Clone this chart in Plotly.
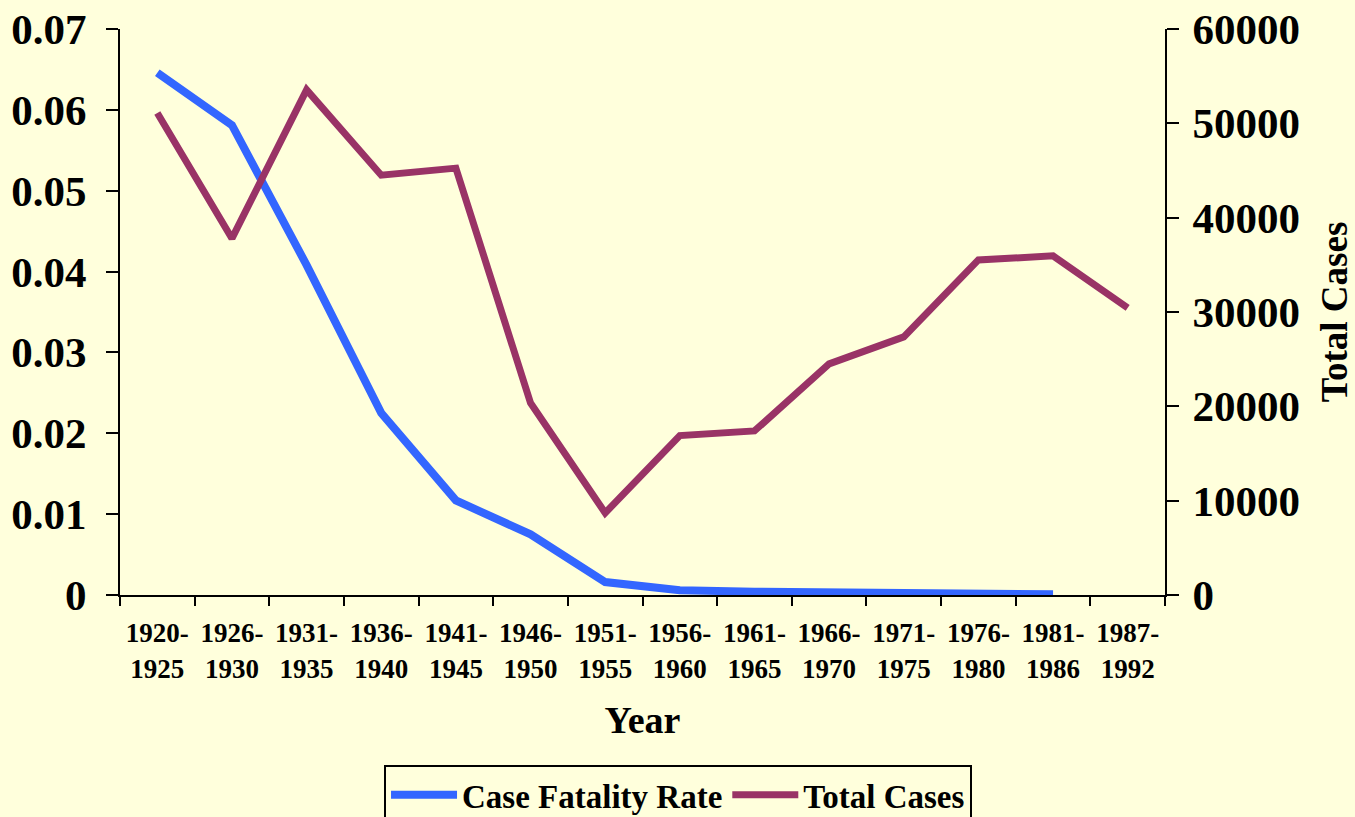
import plotly.graph_objects as go

periods = ["1920-<br>1925", "1926-<br>1930", "1931-<br>1935", "1936-<br>1940", "1941-<br>1945",
           "1946-<br>1950", "1951-<br>1955", "1956-<br>1960", "1961-<br>1965", "1966-<br>1970",
           "1971-<br>1975", "1976-<br>1980", "1981-<br>1986", "1987-<br>1992"]
case_fatality_rate = [0.0646, 0.0581, 0.0408, 0.0225, 0.0117, 0.0075, 0.0016, 0.0006,
                      0.0004, 0.0003, 0.0001, 0.0001, 0.0001]
total_cases = [51100, 37800, 53550, 44500, 45250, 20360, 8700, 16900, 17390, 24500,
               27360, 35520, 35950, 30450]

FONT = "Liberation Serif, Times New Roman, serif"
BG = "#FFFFDC"

fig = go.Figure()
fig.add_trace(go.Scatter(x=periods[:len(case_fatality_rate)], y=case_fatality_rate,
                         mode="lines", name="Case Fatality Rate",
                         line=dict(color="#3366FF", width=8), yaxis="y"))
fig.add_trace(go.Scatter(x=periods, y=total_cases, mode="lines", name="Total Cases",
                         line=dict(color="#993366", width=7), yaxis="y2"))

fig.update_layout(
    width=1355, height=817,
    paper_bgcolor=BG, plot_bgcolor=BG,
    margin=dict(l=120, r=190, t=29, b=222, autoexpand=False),
    font=dict(family=FONT, color="black", weight="bold"),
    showlegend=True,
    legend=dict(orientation="h", x=0.534, xanchor="center", y=-0.3, yanchor="top",
                bordercolor="black", borderwidth=2, bgcolor="rgba(0,0,0,0)",
                itemwidth=66,
                font=dict(size=33, family=FONT, weight="bold")),
    xaxis=dict(type="category", range=[-0.5, len(periods) - 0.5], tickson="boundaries",
               ticks="outside", ticklen=9, ticklabelstandoff=13,
               tickwidth=2, tickcolor="black", showline=True, linecolor="black",
               linewidth=2, showgrid=False, zeroline=False, automargin=False,
               tickfont=dict(size=27, family=FONT, weight="bold"),
               title=dict(text="Year", standoff=24,
                          font=dict(size=38, family=FONT, weight="bold"))),
    yaxis=dict(range=[0, 0.07], dtick=0.01, ticks="outside", ticklen=12, tickwidth=2,
               tickcolor="black", showline=True, linecolor="black", linewidth=2,
               showgrid=False, zeroline=False, ticklabelstandoff=11, automargin=False,
               tickfont=dict(size=43, family=FONT, weight="bold")),
    yaxis2=dict(range=[0, 60000], dtick=10000, tickformat="d", overlaying="y", side="right",
                ticks="outside", ticklen=12, tickwidth=2, tickcolor="black",
                showline=True, linecolor="black", linewidth=2, showgrid=False,
                zeroline=False, ticklabelstandoff=5, automargin=False,
                tickfont=dict(size=43, family=FONT, weight="bold"),
                title=dict(text="Total Cases", standoff=36,
                           font=dict(size=37, family=FONT, weight="bold"))),
    yaxis3=dict(range=[0, 60000], dtick=10000, overlaying="y", side="right", anchor="x",
                ticks="inside", ticklen=12, tickwidth=2, tickcolor="black",
                showticklabels=False, showline=False, showgrid=False, zeroline=False,
                automargin=False),
)

fig.write_html("out.html", config={"displayModeBar": False},
               post_script="document.body.style.margin='0';"
                           "document.body.style.background='" + BG + "';")
